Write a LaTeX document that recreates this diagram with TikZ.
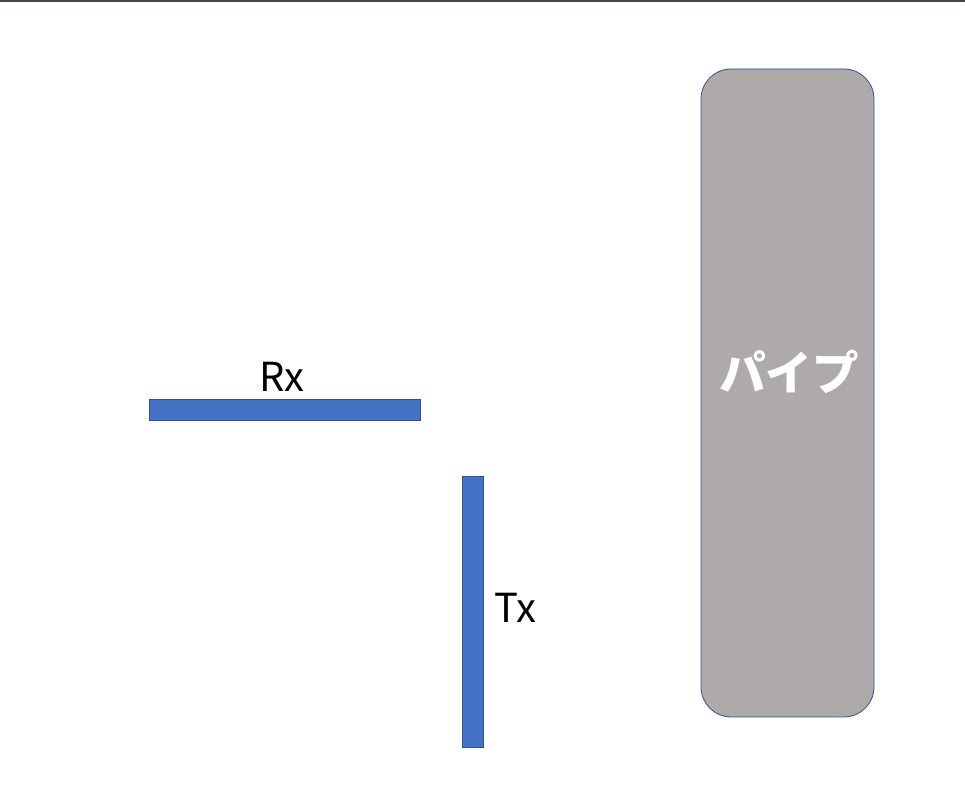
\documentclass[tikz,border=0pt]{standalone}
\usepackage{fontspec}
\setmainfont{Noto Sans CJK JP}
\usetikzlibrary{positioning}
\definecolor{barblue}{HTML}{4472C4}
\definecolor{barline}{HTML}{2F528F}
\definecolor{pipegray}{HTML}{AEAAAA}
\definecolor{topline}{HTML}{404548}

\begin{document}
\begin{tikzpicture}[
    x=0.75pt, y=0.75pt,
    antenna/.style={draw=barline, fill=barblue, line width=0.6pt, inner sep=0pt},
    lbl/.style={font=\fontsize{30}{36}\selectfont, inner sep=0pt, text=black}
]
    \useasboundingbox (0,0) rectangle (965,785);
    \fill[topline] (0,783) rectangle (965,785);

    % receiver and transmitter
    \node[antenna, minimum width=271*0.75pt, minimum height=21*0.75pt] (rx) at (284.5,375.5) {};
    \node[antenna, minimum width=21*0.75pt, minimum height=271*0.75pt] (tx) at (472.5,173.5) {};
    \node[lbl, anchor=base] (rxlabel) at (282,393) {Rx};
    \node[lbl, anchor=base west] (txlabel) at (494,162) {Tx};

    % pipe
    \node[draw=barline, fill=pipegray, line width=0.6pt, rounded corners=22.5pt,
          minimum width=173*0.75pt, minimum height=648*0.75pt, inner sep=0pt] (pipe) at (787.5,392) {};
    \node[font=\fontsize{35}{40}\selectfont\bfseries, text=white, inner sep=0pt] (pipelabel) at (789,413.5) {パイプ};
\end{tikzpicture}
\end{document}
